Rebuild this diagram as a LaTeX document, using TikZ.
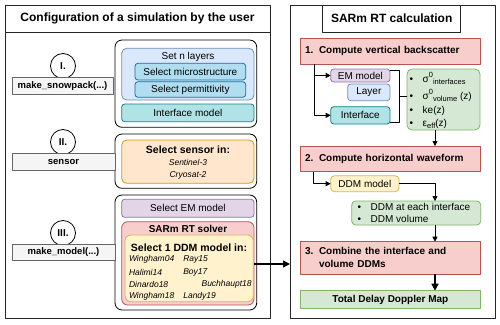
\documentclass[tikz,border=0pt]{standalone}
\usepackage{fontspec}
\setmainfont{Liberation Sans}
\usetikzlibrary{arrows.meta}
\definecolor{redF}{HTML}{F8CECC}\definecolor{redS}{HTML}{B85450}
\definecolor{bluF}{HTML}{DAE8FC}\definecolor{bluS}{HTML}{6C8EBF}
\definecolor{dbluF}{HTML}{B1DDF0}\definecolor{dbluS}{HTML}{10739E}
\definecolor{teaF}{HTML}{B0E3E6}\definecolor{teaS}{HTML}{0E8088}
\definecolor{oraF}{HTML}{FFE6CC}\definecolor{oraS}{HTML}{D79B00}
\definecolor{purF}{HTML}{E1D5E7}\definecolor{purS}{HTML}{9673A6}
\definecolor{yelF}{HTML}{FFF2CC}\definecolor{yelS}{HTML}{D6B656}
\definecolor{grnF}{HTML}{D5E8D4}\definecolor{grnS}{HTML}{82B366}
\definecolor{gryF}{HTML}{F5F5F5}\definecolor{gryS}{HTML}{666666}
\newcommand\fs[1]{\fontsize{#1}{#1}\selectfont}
\newcommand\mysup[1]{\raisebox{0.85ex}{\fs{7.5}#1}}
\newcommand\mysub[1]{\raisebox{-0.45ex}{\fs{7.5}#1}}
\begin{document}
\begin{tikzpicture}[x=1pt,y=-1pt,line join=round,
  every node/.style={inner sep=0pt, outer sep=0pt, font=\fs{10}},
  sz/.style n args={2}{minimum width=#1, minimum height=#2},
  bx/.style={draw, anchor=north west, line width=0.8pt},
  panel/.style={bx, draw=black!85, line width=1pt},
  grp/.style={bx, draw=black, fill=white, rounded corners=7pt},
  redbox/.style={bx, fill=redF, draw=redS},
  bluebox/.style={bx, fill=bluF, draw=bluS},
  dbluebox/.style={bx, fill=dbluF, draw=dbluS, rounded corners=3pt},
  tealbox/.style={bx, fill=teaF, draw=teaS, rounded corners=3pt},
  orabox/.style={bx, fill=oraF, draw=oraS, rounded corners=5pt},
  purbox/.style={bx, fill=purF, draw=purS, rounded corners=3pt},
  yelbox/.style={bx, fill=yelF, draw=yelS},
  grnbox/.style={bx, fill=grnF, draw=grnS},
  lblbox/.style={bx, fill=gryF, draw=gryS, font=\fs{9.5}\bfseries},
  numc/.style={draw, circle, fill=white, minimum size=25pt, line width=0.8pt, font=\fs{10}\bfseries},
  model/.style={anchor=west, font=\fs{8.5}\itshape},
  bul/.style={anchor=base west},
  arr/.style={-{Triangle[length=5pt,width=5pt]}, line width=0.8pt},
  tarr/.style={-{Triangle[length=7pt,width=7pt]}, line width=1.5pt},
  steptext/.style={text width=170.7pt, align=left, font=\fs{10}\bfseries},
]
\useasboundingbox (0,0) rectangle (500,324);

% ---------- left panel ----------
\node[panel, sz={265}{313}] (lp) at (5,5) {};
\draw[black!85, line width=1pt] (lp.west |- 0,32) -- (lp.east |- 0,32);
\node[font=\fs{12}\bfseries] (lt) at (137.5,18.5) {Configuration of a simulation by the user};

% group I
\node[grp, sz={141.7}{87.3}] (g1) at (115,40) {};
\node[bluebox, rounded corners=5pt, sz={132.3}{51.7}] (sn) at (121.7,48.3) {};
\node (snl) at (188,56.5) {Set n layers};
\node[dbluebox, sz={110.7}{16.7}] (sm) at (135,63.3) {Select microstructure};
\node[dbluebox, sz={110.7}{15.6}] (sp) at (135,81.7) {Select permittivity};
\node[tealbox, sz={132.3}{17.7}] (im) at (121.7,104) {Interface model};
\node[numc] (n1) at (63,66) {I.};
\node[lblbox, sz={101}{17}] (l1) at (12,77.7) {make\_snowpack(...)};

% group II
\node[grp, sz={141.7}{54.3}] (g2) at (115,134) {};
\node[orabox, sz={132.3}{43.3}] (os) at (121.7,140) {};
\node[font=\fs{10.5}\bfseries] (ost) at (188,150) {Select sensor in:};
\node[font=\fs{8.5}\itshape] (s1) at (188,162.7) {Sentinel-3};
\node[font=\fs{8.5}\itshape] (s2) at (188,175) {Cryosat-2};
\node[numc] (n2) at (63,142) {II.};
\node[lblbox, sz={103}{17.4}] (l2) at (12,153.3) {sensor};

% group III
\node[grp, sz={141.7}{115}] (g3) at (115,195) {};
\node[purbox, sz={132.3}{18}] (sem) at (121.7,199.3) {Select EM model};
\node[redbox, rounded corners=6pt, sz={132.3}{83.3}] (sol) at (121.7,221.7) {};
\node[font=\fs{10}\bfseries] (solt) at (188,229) {SARm RT solver};
\node[yelbox, rounded corners=6pt, sz={128.3}{66.7}] (yl) at (125,235) {};
\node[font=\fs{10.5}\bfseries] (ylt) at (189,247.5) {Select 1 DDM model in:};
\node[model] (m1) at (129,259.5) {Wingham04};
\node[model] (m2) at (183.3,259.5) {Ray15};
\node[model] (m3) at (129,272) {Halimi14};
\node[model] (m4) at (183.3,272) {Boy17};
\node[model] (m5) at (129,284.3) {Dinardo18};
\node[model, anchor=east] (m6) at (251.7,284.3) {Buchhaupt18};
\node[model] (m7) at (129,296.7) {Wingham18};
\node[model] (m8) at (183.3,296.7) {Landy19};
\node[numc] (n3) at (63,233) {III.};
\node[lblbox, sz={103}{15.7}] (l3) at (12,244.3) {make\_model(...)};

% ---------- right panel ----------
\node[panel, sz={205}{313}] (rp) at (290,5) {};
\node[panel, sz={138}{27}, font=\fs{12}\bfseries] (rt) at (322.7,5) {SARm RT calculation};

\node[redbox, sz={180.7}{26}, steptext] (b1) at (300,38) {\makebox[14pt][l]{1.}Compute vertical backscatter};
\node[purbox, sz={59.3}{13}] (em) at (330.7,69) {EM model};
\node[bluebox, rounded corners=3pt, sz={42.3}{16.7}] (ly) at (347.7,84) {Layer};
\node[tealbox, sz={59.3}{17.3}] (if) at (330.7,106.7) {Interface};
\node[grnbox, rounded corners=5pt, sz={73}{61}] (gb1) at (407,69) {};
\node[bul] (d1) at (409.5,82) {\textbullet};
\node[bul] (t1) at (422.7,82) {σ\mysup{0}\mysub{interfaces}};
\node[bul] (d2) at (409.5,99) {\textbullet};
\node[bul] (t2) at (422.7,99) {σ\mysup{0}\mysub{volume} (z)};
\node[bul] (d3) at (409.5,113.5) {\textbullet};
\node[bul] (t3) at (422.7,113.5) {ke(z)};
\node[bul] (d4) at (409.5,126) {\textbullet};
\node[bul] (t4) at (422.7,126) {ε\mysub{eff}(z)};

\coordinate (c1) at (b1.south -| 314,0);
\draw[arr] (c1) |- (if.west);
\draw[arr] (c1 |- em.west) -- (em.west);
\draw[line width=0.8pt] ([yshift=-1pt]em.north east) -- ++(9,0) |- ([yshift=1.5pt]if.south east);
\coordinate (bm) at (399,96.7);
\draw[line width=0.8pt] (bm) -- (bm -| gb1.west);

\node[redbox, sz={180.7}{25.7}, steptext] (b2) at (300,146) {\makebox[14pt][l]{2.}Compute horizontal waveform};
\draw[arr] (gb1.south -| 435,0) -- (b2.north -| 435,0);
\node[yelbox, rounded corners=4pt, sz={68.3}{16}] (ddm) at (330.7,175.7) {DDM model};
\draw[arr] (b2.south -| 313.3,0) |- (ddm.west);
\node[grnbox, rounded corners=4pt, sz={129}{24}] (gb2) at (351.7,201) {};
\node[bul] (e1) at (357.5,210) {\textbullet};
\node[bul] (u1) at (370.7,210) {DDM at each interface};
\node[bul] (e2) at (357.5,222.5) {\textbullet};
\node[bul] (u2) at (370.7,222.5) {DDM volume};
\draw[arr] (ddm.east) -| (gb2.north -| 435,0);

\node[redbox, sz={180.7}{32.3}, steptext, font=\fontsize{10}{13}\selectfont\bfseries] (b3) at (300,241.7) {\makebox[14pt][l]{3.}Combine the interface and\\\hspace*{14pt}volume DDMs};
\draw[arr] (gb2.south -| 435,0) -- (b3.north -| 435,0);
\node[grnbox, sz={180.7}{17.6}, font=\fs{10}\bfseries] (tot) at (300,290.7) {Total Delay Doppler Map};
\draw[tarr] (b3.south -| 435,0) -- (tot.north -| 435,0);

% arrow between panels
\draw[tarr] (sol.east |- 0,264) -- (rp.west |- 0,264);
\end{tikzpicture}
\end{document}
